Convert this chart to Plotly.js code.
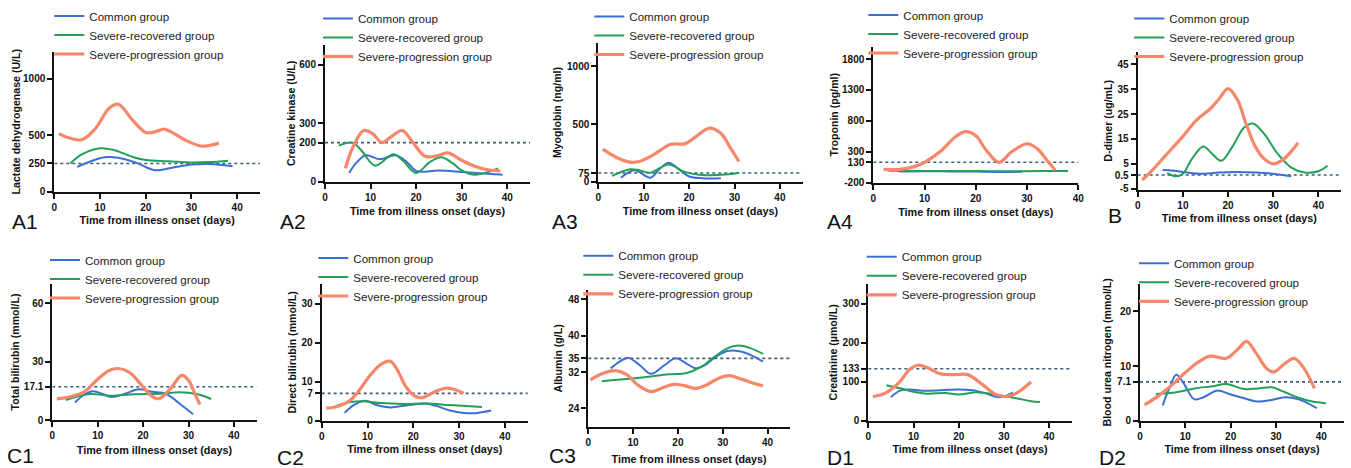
<!DOCTYPE html>
<html><head><meta charset="utf-8">
<script src="https://cdn.plot.ly/plotly-3.0.1.min.js"></script>
<style>html,body{margin:0;padding:0;background:#fff}#chart{width:1351px;height:468px}</style>
</head><body><div id="chart"></div>
<script>
// ---------- DATA ----------
const groupNames = ['Common group', 'Severe-recovered group', 'Severe-progression group'];
const xTickVals = [0, 10, 20, 30, 40];
const xLabel = 'Time from illness onset (days)';

// A1 Lactate dehydrogenase (U/L)
const ldhCommon = [[5,220],[8,270],[11,305],[14,300],[18,255],[22,190],[26,215],[30,240],[34,245],[39,225]];
const ldhRecovered = [[3.5,250],[6,330],[10,385],[13,370],[17,310],[20,280],[25,270],[30,258],[34,262],[38,275]];
const ldhProgression = [[1,515],[3,480],[6,460],[9,560],[12,740],[14,775],[17,640],[20,525],[22,530],[24,555],[26,520],[29,450],[32,405],[34,410],[36,430]];
const ldhTicks = [0, 250, 500, 1000];
const ldhRef = 250;

// A2 Creatine kinase (U/L)
const ckCommon = [[5.3,45],[7,100],[9,135],[12,115],[15.5,135],[18,100],[20,55],[25,57],[30,50],[35,42],[39,35]];
const ckRecovered = [[3,185],[6,200],[8,160],[11,82],[15,140],[17,110],[20,45],[23,100],[25.5,125],[28,95],[30,58],[33,35],[38,68]];
const ckProgression = [[4.5,68],[6,170],[8.5,262],[10.5,245],[12.5,200],[14.5,230],[17,262],[19,210],[22,130],[25,135],[27,148],[30,110],[33,78],[36,60],[38.5,55]];
const ckTicks = [0, 200, 300, 600];
const ckRef = 200;

// A3 Myoglobin (ng/ml)
const myoCommon = [[5,35],[8,100],[11.5,35],[13.5,110],[15.5,165],[18,100],[20,45],[23,30],[27,30]];
const myoRecovered = [[3,50],[7,108],[9,100],[11.5,78],[15.5,150],[19,85],[23,58],[28,62],[31,78]];
const myoProgression = [[1,282],[4,210],[7,170],[9,175],[12,230],[16,325],[19,328],[21.5,390],[24.5,465],[27,420],[29,300],[31,175]];
const myoTicks = [0, 75, 500, 1000];
const myoRef = 75;

// A4 Troponin (pg/ml)
const tnCommon = [[5,-20],[10,-15],[15,-18],[20,-20],[25,-28],[29,-22]];
const tnRecovered = [[3,-5],[10,-10],[20,-12],[29,-15],[34,-10],[38,-10]];
const tnProgression = [[2,15],[5,15],[8,60],[10,130],[13,300],[16,540],[18,625],[20,560],[22,330],[24.5,130],[27,300],[30,430],[32,350],[34,150],[35.5,0]];
const tnTicks = [-200, 130, 300, 800, 1300, 1800];
const tnRef = 130;

// B D-dimer (ug/mL)
const ddCommon = [[5.5,2.5],[8,2.2],[11,1.5],[14,1.0],[18,1.5],[22,1.7],[26,1.5],[30,1.0],[34,0]];
const ddRecovered = [[6.5,1.3],[8.5,0],[10,1],[12,7],[14.5,12],[16.5,9],[18.5,6.2],[21,12],[23.5,19.5],[25.5,21.2],[28,17],[31,9],[34,3.5],[37,1.5],[40,2],[42,4.2]];
const ddProgression = [[1,-1.5],[3,2],[6,8],[10,16],[13,22.5],[16,27],[18,31],[20,35.2],[22,31],[24,21],[26,12],[28,7],[30,5],[32,6.5],[34,10],[35.5,13.5]];
const ddTicks = [-5, 0.5, 5, 15, 25, 35, 45];
const ddRef = 0.5;

// C1 Total bilirubin (mmol/L)
const tbCommon = [[5,9],[7,13],[9,14.8],[11,13.5],[13,11.8],[16,13.5],[19,15.8],[22,14.5],[25,13.5],[28,8.5],[31,3]];
const tbRecovered = [[3,10.3],[8,13.3],[13,12.5],[18,13.3],[24,13.5],[28,14.3],[32,13.2],[35,10.8]];
const tbProgression = [[1,10.9],[4,12],[7,14.5],[10,21],[12.5,25.5],[14.5,26.5],[17,24.5],[20,17],[22,12],[23.5,11],[26,16],[28.5,23],[30,20.5],[31.5,13],[32.5,8]];
const tbTicks = [0, 17.1, 30, 60];
const tbRef = 17.1;

// C2 Direct bilirubin (mmol/L)
const dbCommon = [[5,2],[7,4],[9.5,5.1],[12,4],[15,3.4],[19,4],[22.5,4.4],[25,3.8],[28,2.6],[31,2.0],[34,2.0],[37,2.6]];
const dbRecovered = [[3,3.7],[6,4.7],[9,5],[13,4.5],[18,4.3],[23,4.4],[28,4],[35,3.5]];
const dbProgression = [[1,3.2],[3,3.5],[6,5],[8,7.5],[10.5,11.5],[13,14.5],[15,15.2],[16.5,13],[18.5,8.5],[20.5,6.2],[22,5.9],[24.5,7.3],[27,8.3],[29,8],[31,7]];
const dbTicks = [0, 7, 10, 20, 30];
const dbRef = 7;

// C3 Albumin (g/L)
const albCommon = [[5,32.8],[7,34.3],[9,35.1],[11.5,33.5],[14,31.6],[17,33.5],[19.5,35],[22,33.8],[24,32.8],[26,33.5],[28,35],[31,36.6],[34,36.5],[36.5,35.6],[39,34.3]];
const albRecovered = [[3,30],[8,30.4],[13,30.9],[18,31.5],[22,31.8],[25,33],[28,35.2],[31,37.2],[33.5,37.8],[36,37.3],[39,36]];
const albProgression = [[0.5,30.3],[3,31.6],[6,32.3],[8.5,31.5],[11,29.2],[14,27.7],[16.5,28.5],[19,29.3],[21.5,29],[24,28.4],[26.5,29.2],[29,30.6],[31.5,31.2],[34,30.5],[37,29.5],[39,29]];
const albTicks = [24, 32, 35, 40, 48];
const albRef = 35;

// D1 Creatinine (µmol/L)
const crCommon = [[5,60],[7,77],[9,80],[12,77],[16,78],[20,80],[23,78],[26,70],[29,60],[32,72]];
const crRecovered = [[4,91],[7,83],[10,74],[13,69],[17,71],[20,67],[24,73],[28,67],[30,63],[33,57],[36,50],[38,48]];
const crProgression = [[1,62],[4,72],[7,100],[9,130],[11,142],[13,136],[16,120],[19,118],[22,118],[25,95],[28,68],[30,62],[32,66],[34,80],[36,99]];
const crTicks = [0, 100, 133, 200, 300];
const crRef = 133;

// D2 Blood urea nitrogen (mmol/L)
const bunCommon = [[5,2.8],[6.5,6],[8,8.4],[9.5,7],[12,3.9],[14,4.3],[17,5.5],[20,4.8],[23,4.1],[26,3.5],[29,3.8],[32,4.3],[35,3.9],[39,2.3]];
const bunRecovered = [[3.5,4.9],[8,5.2],[12,5.9],[16,6.3],[19,6.7],[23,5.8],[26,5.9],[29,6.1],[32,5.2],[35,4.2],[38,3.5],[41,3.2]];
const bunProgression = [[1,2.9],[4,4.5],[7,6.5],[10,8.8],[13,10.8],[15.5,11.8],[19,11.4],[21.5,13],[23.5,14.5],[25.5,12.5],[28,9.5],[29.5,8.9],[32,10.5],[34,11.4],[36,9.8],[38.5,5.9]];
const bunTicks = [0, 7.1, 10, 20];
const bunRef = 7.1;

// ---------- PANELS (content + placement) ----------
const W = 1351, H = 468;
const panels = [
  {label:'A1', ytitle:'Lactate dehydrogenase (U/L)', series:[ldhCommon,ldhRecovered,ldhProgression], ticks:ldhTicks, ref:ldhRef, yr:[0,1240], xr:[0,45],
   box:[54.3,260,51.7,191.7], leg:[49.3,1.5], lab:[10,221.5], xs:5, ys:0},
  {label:'A2', ytitle:'Creatine kinase (U/L)', series:[ckCommon,ckRecovered,ckProgression], ticks:ckTicks, ref:ckRef, yr:[0,700], xr:[0,45],
   box:[325,530,45,181.7], leg:[318,4], lab:[278,221.5], xs:6, ys:2},
  {label:'A3', ytitle:'Myoglobin (ng/ml)', series:[myoCommon,myoRecovered,myoProgression], ticks:myoTicks, ref:myoRef, yr:[0,1200], xr:[0,45],
   box:[598.3,802.6,43.3,181.7], leg:[589.3,2], lab:[550,221.5], xs:6, ys:3},
  {label:'A4', ytitle:'Troponin (pg/ml)', series:[tnCommon,tnRecovered,tnProgression], ticks:tnTicks, ref:tnRef, yr:[-200,2000], xr:[0,40],
   box:[873.3,1078.3,46.7,182.7], leg:[863.3,0.5], lab:[825,221.5], xs:6, ys:1},
  {label:'B', ytitle:'D-dimer (ug/mL)', series:[ddCommon,ddRecovered,ddProgression], ticks:ddTicks, ref:ddRef, yr:[-5.5,50], xr:[0,45],
   box:[1137.7,1341,51.7,190], leg:[1129.3,4], lab:[1106,215.5], xs:4, ys:0},
  {label:'C1', ytitle:'Total bilirubin (mmol/L)', series:[tbCommon,tbRecovered,tbProgression], ticks:tbTicks, ref:tbRef, yr:[0,70], xr:[0,45],
   box:[52.3,256.6,284,420], leg:[45,245.5], lab:[5,455.5], xs:6.5, ys:2},
  {label:'C2', ytitle:'Direct bilirubin (mmol/L)', series:[dbCommon,dbRecovered,dbProgression], ticks:dbTicks, ref:dbRef, yr:[0,35], xr:[0,45],
   box:[321.7,527.8,284,420.7], leg:[313.3,243.5], lab:[275,457.5], xs:5, ys:3},
  {label:'C3', ytitle:'Albumin (g/L)', series:[albCommon,albRecovered,albProgression], ticks:albTicks, ref:albRef, yr:[20,50], xr:[0,45],
   box:[588.3,789.9,290,426.7], leg:[578.3,241.3], lab:[547,455.5], xs:9, ys:3},
  {label:'D1', ytitle:'Creatinine (µmol/L)', series:[crCommon,crRecovered,crProgression], ticks:crTicks, ref:crRef, yr:[0,350], xr:[0,45],
   box:[868.3,1071.7,284,420.7], leg:[861.7,242.3], lab:[825,457.5], xs:5, ys:3},
  {label:'D2', ytitle:'Blood urea nitrogen (mmol/L)', series:[bunCommon,bunRecovered,bunProgression], ticks:bunTicks, ref:bunRef, yr:[0,25], xr:[0,45],
   box:[1140,1344,284,420.7], leg:[1134,248.8], lab:[1097,457.5], xs:5, ys:3}
];

// ---------- STYLE ----------
const FONT = 'Liberation Sans, Arial, Helvetica, sans-serif';
const colors = ['#3b6fd6', '#22a05a', '#f7876a'];
const widths = [2, 2, 3.2];
const refColor = '#3c5e78';
const axisColor = '#111';

const traces = [];
const shapes = [];
const annotations = [];
const layout = {
  width: W, height: H,
  margin: {l:0, r:0, t:0, b:0},
  paper_bgcolor: '#fff', plot_bgcolor: 'rgba(0,0,0,0)',
  font: {family: FONT, color: axisColor},
  showlegend: true,
  shapes: shapes, annotations: annotations
};

panels.forEach((p, i) => {
  const n = i + 1;
  const sfx = n === 1 ? '' : String(n);
  const xa = 'x' + sfx, ya = 'y' + sfx;
  const legName = 'legend' + sfx;
  const [x0, x1, yTop, yBot] = p.box;

  p.series.forEach((s, k) => {
    traces.push({
      type: 'scatter', mode: 'lines',
      x: s.map(d => d[0]), y: s.map(d => d[1]),
      name: groupNames[k],
      line: {color: colors[k], width: widths[k], shape: 'spline', smoothing: 1},
      xaxis: xa, yaxis: ya, legend: legName,
      hoverinfo: 'skip'
    });
  });

  const axCommon = {
    showline: true, linecolor: axisColor, linewidth: 2,
    ticks: 'outside', ticklen: 5, tickwidth: 2, tickcolor: axisColor,
    showgrid: false, zeroline: false, fixedrange: true,
    tickfont: {family: FONT, size: 10, color: axisColor, weight: 'bold'}
  };
  layout['xaxis' + sfx] = Object.assign({}, axCommon, {
    domain: [x0 / W, x1 / W], anchor: ya, range: p.xr,
    tickmode: 'array', tickvals: xTickVals, ticktext: xTickVals.map(String),
    title: {text: xLabel, font: {family: FONT, size: 10.8, color: axisColor, weight: 'bold'}, standoff: p.xs}
  });
  layout['yaxis' + sfx] = Object.assign({}, axCommon, {
    domain: [1 - yBot / H, 1 - yTop / H], anchor: xa, range: p.yr,
    tickmode: 'array', tickvals: p.ticks, ticktext: p.ticks.map(String),
    title: {text: p.ytitle, font: {family: FONT, size: 10.6, color: axisColor, weight: 'bold'}, standoff: p.ys}
  });

  layout[legName] = {
    x: p.leg[0] / W, y: 1 - p.leg[1] / H, xanchor: 'left', yanchor: 'top',
    bgcolor: 'rgba(0,0,0,0)', borderwidth: 0, itemwidth: 30,
    font: {family: FONT, size: 11.6, color: '#222'}
  };

  shapes.push({
    type: 'line', xref: xa, yref: ya,
    x0: p.xr[0], x1: p.xr[1], y0: p.ref, y1: p.ref,
    line: {color: refColor, width: 1.6, dash: 'dot'}, layer: 'below'
  });

  annotations.push({
    text: p.label, xref: 'paper', yref: 'paper',
    x: p.lab[0] / W, y: 1 - p.lab[1] / H, xanchor: 'left', yanchor: 'middle',
    showarrow: false, font: {family: FONT, size: 21, color: '#111'}
  });
});

Plotly.newPlot('chart', traces, layout, {displayModeBar: false, staticPlot: true});
</script>
</body></html>
